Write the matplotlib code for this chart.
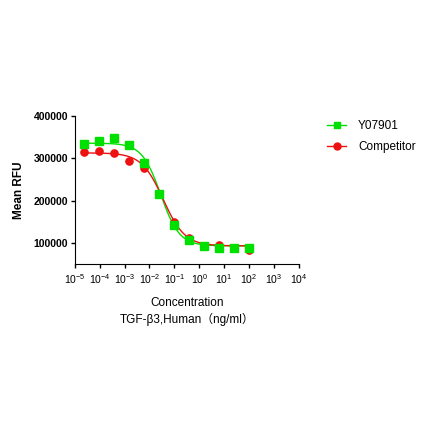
import numpy as np
import matplotlib
matplotlib.use("Agg")
from matplotlib import pyplot as plt
from matplotlib.ticker import LogLocator, LogFormatterSciNotation, FixedLocator, NullLocator

plt.rcParams['font.family'] = ['Liberation Sans', 'Noto Sans CJK SC', 'DejaVu Sans']
plt.rcParams['mathtext.fontset'] = 'custom'
plt.rcParams['mathtext.rm'] = 'Liberation Sans:bold'
plt.rcParams['mathtext.bf'] = 'Liberation Sans:bold'
plt.rcParams['mathtext.it'] = 'Liberation Sans:bold'

# 4-fold dilution series from 100 ng/ml
conc = 100.0 / 4.0 ** np.arange(11, -1, -1)

y07901 = [333000, 340800, 348600, 331000, 288600, 216000, 143000, 107000, 93000, 87600, 87600, 86800]
y07901_err = [3000, 3000, 3000, 6000, 4000, 3000, 3000, 3000, 2000, 2000, 2000, 2000]
competitor = [315900, 317400, 312700, 294800, 277700, 214600, 148400, 111000, 91500, 93900, 87600, 83700]
competitor_err = [3000, 3000, 2000, 3000, 6000, 3000, 3000, 3000, 2000, 2000, 2000, 2000]

# 4PL fit parameters: top, bottom, log IC50, hill
fit_green = (336000, 93000, -1.55, 1.15)
fit_red = (313000, 93000, -1.45, 1.0)


def four_pl(x, top, bottom, logic50, hill):
    return bottom + (top - bottom) / (1 + (x / 10 ** logic50) ** hill)


fig = plt.figure(figsize=(4.3, 4.3), dpi=100)
ax = fig.add_axes([0.174, 0.386, 0.521, 0.344])

xx = np.logspace(np.log10(conc[0]), np.log10(conc[-1]), 300)
green = '#00e000'
red = '#ee1111'

ax.plot(xx, four_pl(xx, *fit_green), color=green, lw=1)
ax.plot(xx, four_pl(xx, *fit_red), color=red, lw=1)
ax.errorbar(conc, competitor, yerr=competitor_err, fmt='o', color=red, ms=5.2,
            capsize=0, elinewidth=1)
ax.errorbar(conc, y07901, yerr=y07901_err, fmt='s', color=green, ms=5.8,
            capsize=0, elinewidth=1)

# legend handles
ax.plot([], [], color=green, marker='s', ms=5, lw=1, label='Y07901')
ax.plot([], [], color=red, marker='o', ms=5, lw=1, label='Competitor')
handles, labels = ax.get_legend_handles_labels()
ax.legend(handles[-2:], labels[-2:], loc='upper left', bbox_to_anchor=(1.08, 1.045),
          frameon=False, fontsize=8.5, handlelength=1.6, handletextpad=1.0,
          labelspacing=0.75)

ax.set_xscale('log')
ax.set_xlim(1e-5, 1e4)
ax.set_ylim(50000, 400000)
ax.xaxis.set_major_locator(LogLocator(base=10, numticks=20))
ax.xaxis.set_major_formatter(LogFormatterSciNotation())
ax.xaxis.set_minor_locator(NullLocator())
ax.yaxis.set_major_locator(FixedLocator([100000, 200000, 300000, 400000]))
ax.set_yticklabels(['100000', '200000', '300000', '400000'])

for lab in ax.get_yticklabels():
    lab.set_fontweight('bold')
ax.tick_params(axis='y', labelsize=7.5, direction='out', length=3, width=1, pad=2)
ax.tick_params(axis='x', labelsize=7.5, direction='out', length=3, width=1, pad=3)
ax.spines['top'].set_visible(False)
ax.spines['right'].set_visible(False)

ax.set_ylabel('Mean RFU', fontsize=8.5, fontweight='bold', labelpad=6)
ax.set_xlabel('Concentration\nTGF-β3,Human（ng/ml）', fontsize=8.5, labelpad=8,
              linespacing=1.35)

plt.savefig('out.png', dpi=100)
